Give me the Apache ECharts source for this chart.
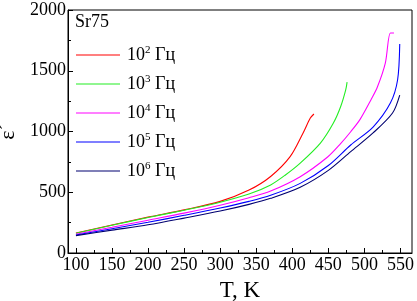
<!DOCTYPE html>
<html>
<head>
<meta charset="utf-8">
<script src="https://cdn.jsdelivr.net/npm/echarts@6/dist/echarts.min.js"></script>
<style>
  html, body { margin: 0; padding: 0; background: #fff; }
  #chart { width: 417px; height: 301px; }
</style>
</head>
<body>
<div id="chart"></div>
<script>
  // data
  let freqPowers = ['2', '3', '4', '5', '6']
  let lineColors = ['#ff0000', '#22ee22', '#ff00ff', '#0000ff', '#000070']

  let t2 = [100, 150, 200, 250, 300, 340, 370, 397, 415, 425, 430]
  let eps2 = [165, 230, 295, 355, 425, 518, 630, 793, 988, 1111, 1144]

  let t3 = [100, 150, 200, 250, 300, 340, 370, 390, 411, 439, 457, 467, 474, 476]
  let eps3 = [163, 228, 292, 352, 418, 485, 560, 640, 740, 905, 1070, 1204, 1341, 1407]

  let t4 = [100, 150, 200, 250, 300, 340, 370, 411, 449, 467, 481, 494, 509, 518, 529, 536, 541]
  let eps4 = [155, 212, 270, 328, 393, 455, 510, 628, 790, 900, 998, 1100, 1260, 1366, 1563, 1811, 1811]

  let t5 = [100, 150, 200, 250, 300, 340, 370, 411, 450, 481, 512, 536, 546, 549]
  let eps5 = [148, 200, 253, 310, 370, 425, 475, 573, 720, 889, 1037, 1234, 1424, 1720]

  let t6 = [100, 150, 200, 250, 300, 340, 370, 411, 450, 481, 512, 539, 549]
  let eps6 = [143, 188, 232, 287, 345, 400, 450, 541, 680, 834, 988, 1152, 1300]

  let xMajorTicks = [100, 150, 200, 250, 300, 350, 400, 450, 500, 550]
  let xMinorTicks = [125, 175, 225, 275, 325, 375, 425, 475, 525]

  let allT = [t2, t3, t4, t5, t6]
  let allEps = [eps2, eps3, eps4, eps5, eps6]

  let serif = 'Liberation Serif'
  let chart = echarts.init(document.getElementById('chart'))

  let seriesNames = freqPowers.map((p) => '10' + p + ' Гц')

  let options = {
    animation: false,
    title: {
      text: 'Sr75',
      left: 75,
      top: 13,
      padding: 0,
      textStyle: { fontFamily: serif, fontSize: 18, fontWeight: 'normal', color: '#000' }
    },
    legend: {
      orient: 'vertical',
      left: 76,
      top: 45,
      padding: 0,
      icon: 'rect',
      itemWidth: 44,
      itemHeight: 1.2,
      itemGap: 10,
      data: seriesNames,
      formatter: function (name) {
        let p = name.charAt(2)
        return '{b|10}{sup|' + p + '}{b| Гц}'
      },
      textStyle: {
        color: '#000',
        fontFamily: serif,
        fontSize: 18,
        padding: [0, 0, 0, 2],
        rich: {
          b: { fontFamily: serif, fontSize: 18, color: '#000', lineHeight: 18 },
          sup: { fontFamily: serif, fontSize: 11, color: '#000', verticalAlign: 'bottom', padding: [0, 0, 9, 0] }
        }
      }
    },
    grid: {
      left: 68,
      right: 5,
      top: 10,
      bottom: 48,
      outerBoundsMode: 'none',
      show: true,
      borderColor: '#000',
      borderWidth: 1
    },
    xAxis: [
      {
        type: 'value',
        min: 89,
        max: 566,
        name: 'T, K',
        nameLocation: 'middle',
        nameGap: 26,
        nameTextStyle: { fontFamily: serif, fontSize: 23, color: '#000' },
        axisLine: { lineStyle: { color: '#000', width: 1 } },
        axisTick: { inside: true, length: 5, customValues: xMajorTicks, lineStyle: { color: '#000' } },
        axisLabel: { customValues: xMajorTicks, fontFamily: serif, fontSize: 18, color: '#000', margin: 3 },
        splitLine: { show: false }
      },
      {
        type: 'value',
        position: 'bottom',
        min: 89,
        max: 566,
        axisLine: { show: false },
        axisTick: { inside: true, length: 3, customValues: xMinorTicks, lineStyle: { color: '#000' } },
        axisLabel: { show: false },
        splitLine: { show: false }
      }
    ],
    yAxis: {
      type: 'value',
      min: 0,
      max: 2000,
      interval: 500,
      name: 'ε´',
      nameLocation: 'middle',
      nameGap: 45,
      nameTextStyle: { fontFamily: serif, fontSize: 22, color: '#000' },
      axisLine: { show: true, lineStyle: { color: '#000', width: 1 } },
      axisTick: { inside: true, length: 5, lineStyle: { color: '#000' } },
      minorTick: { show: true, splitNumber: 2, length: 3, lineStyle: { color: '#000' } },
      axisLabel: {
        fontFamily: serif,
        fontSize: 18,
        color: '#000',
        margin: 2,
        formatter: (v) => String(v)
      },
      splitLine: { show: false }
    },
    series: seriesNames.map((name, i) => {
      return {
        name: name,
        type: 'line',
        symbol: 'none',
        smooth: 0.3,
        color: lineColors[i],
        lineStyle: { width: 1.1, color: lineColors[i] },
        data: allT[i].map((t, j) => [t, allEps[i][j]])
      }
    })
  }
  chart.setOption(options)
</script>
</body>
</html>
